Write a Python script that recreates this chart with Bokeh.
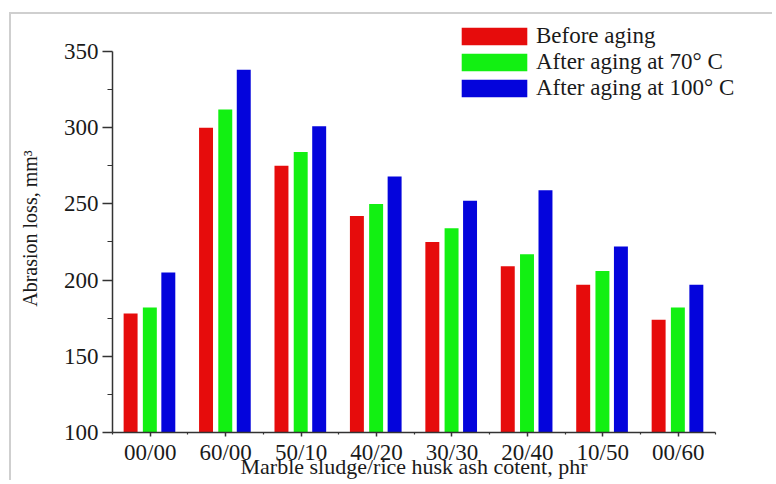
from bokeh.plotting import figure
from bokeh.models import (ColumnDataSource, Range1d, FixedTicker, Legend, LegendItem, Title)
from bokeh.transform import dodge
from bokeh.embed import file_html
from bokeh.resources import INLINE

categories = ["00/00", "60/00", "50/10", "40/20", "30/30", "20/40", "10/50", "00/60"]
before_aging = [178, 300, 275, 242, 225, 209, 197, 174]
after_70 = [182, 312, 284, 250, 234, 217, 206, 182]
after_100 = [205, 338, 301, 268, 252, 259, 222, 197]
series_names = ["Before aging", "After aging at 70\u00b0 C", "After aging at 100\u00b0 C"]
x_title = "Marble sludge/rice husk ash cotent, phr"
y_title = "Abrasion loss, mm\u00b3"
y_ticks = [100, 150, 200, 250, 300, 350]
y_minor = [125, 175, 225, 275, 325]

FONT = "Liberation Serif"
RED, GREEN, BLUE = "#e60c0c", "#12f012", "#0404dc"

idx = list(range(len(categories)))
src = ColumnDataSource(dict(x=idx, b=before_aging, a70=after_70, a100=after_100))

p = figure(width=763, height=468, output_backend="svg", toolbar_location=None,
           x_range=Range1d(-0.5, 8.17), y_range=Range1d(100, 367.7),
           min_border_left=101, min_border_top=10, min_border_right=8, min_border_bottom=50)
p.styles = {"border-left": "2px solid #cfcfcf", "border-top": "2px solid #cfcfcf",
            "margin-left": "9px", "margin-top": "12px"}
p.outline_line_color = None
p.grid.visible = False
p.background_fill_color = "white"
p.border_fill_color = "white"

r1 = p.vbar(x=dodge("x", -0.26, range=p.x_range), top="b", bottom=100, width=0.185, source=src,
            fill_color=RED, line_color=None)
r2 = p.vbar(x=dodge("x", -0.005, range=p.x_range), top="a70", bottom=100, width=0.185, source=src,
            fill_color=GREEN, line_color=None)
r3 = p.vbar(x=dodge("x", 0.24, range=p.x_range), top="a100", bottom=100, width=0.185, source=src,
            fill_color=BLUE, line_color=None)

xa = p.xaxis[0]
xa.ticker = FixedTicker(ticks=idx, minor_ticks=[i - 0.5 for i in range(len(categories) + 1)])
xa.bounds = (-0.5, len(categories) - 0.5)
xa.major_label_overrides = {i: c for i, c in zip(idx, categories)}
xa.major_tick_out = 4
xa.major_tick_in = 0
xa.minor_tick_out = 2
xa.minor_tick_in = 0
xa.major_label_standoff = 3

ya = p.yaxis[0]
ya.ticker = FixedTicker(ticks=y_ticks, minor_ticks=y_minor)
ya.bounds = (100, 350)
ya.major_tick_out = 10
ya.major_tick_in = 0
ya.minor_tick_out = 5
ya.minor_tick_in = 0
ya.major_label_standoff = 4
ya.axis_label = y_title
ya.axis_label_text_font = FONT
ya.axis_label_text_font_size = "20px"
ya.axis_label_text_font_style = "normal"
ya.axis_label_text_color = "#1a1a1a"
ya.axis_label_standoff = 20

for ax in (xa, ya):
    ax.axis_line_color = "#333333"
    ax.axis_line_width = 1.5
    ax.major_tick_line_color = "#333333"
    ax.major_tick_line_width = 1.5
    ax.minor_tick_line_color = "#333333"
    ax.minor_tick_line_width = 1.2
    ax.major_label_text_font = FONT
    ax.major_label_text_font_size = "23px"
    ax.major_label_text_color = "#1a1a1a"

xtitle = Title(text=x_title, text_font=FONT, text_font_size="22px",
               text_font_style="normal", text_color="#1a1a1a", align="left", offset=128,
               vertical_align="top", standoff=-28)
p.add_layout(xtitle, "below")

legend = Legend(items=[LegendItem(label=series_names[0], renderers=[r1]),
                       LegendItem(label=series_names[1], renderers=[r2]),
                       LegendItem(label=series_names[2], renderers=[r3])],
                location=(341, 331), orientation="vertical",
                glyph_width=82, glyph_height=22, label_height=20, label_standoff=1,
                spacing=0, padding=0, margin=0,
                label_text_font=FONT, label_text_font_size="23px", label_text_color="#1a1a1a",
                border_line_color=None, background_fill_alpha=0)
p.add_layout(legend, "center")

open("out.html", "w").write(file_html(p, INLINE))
